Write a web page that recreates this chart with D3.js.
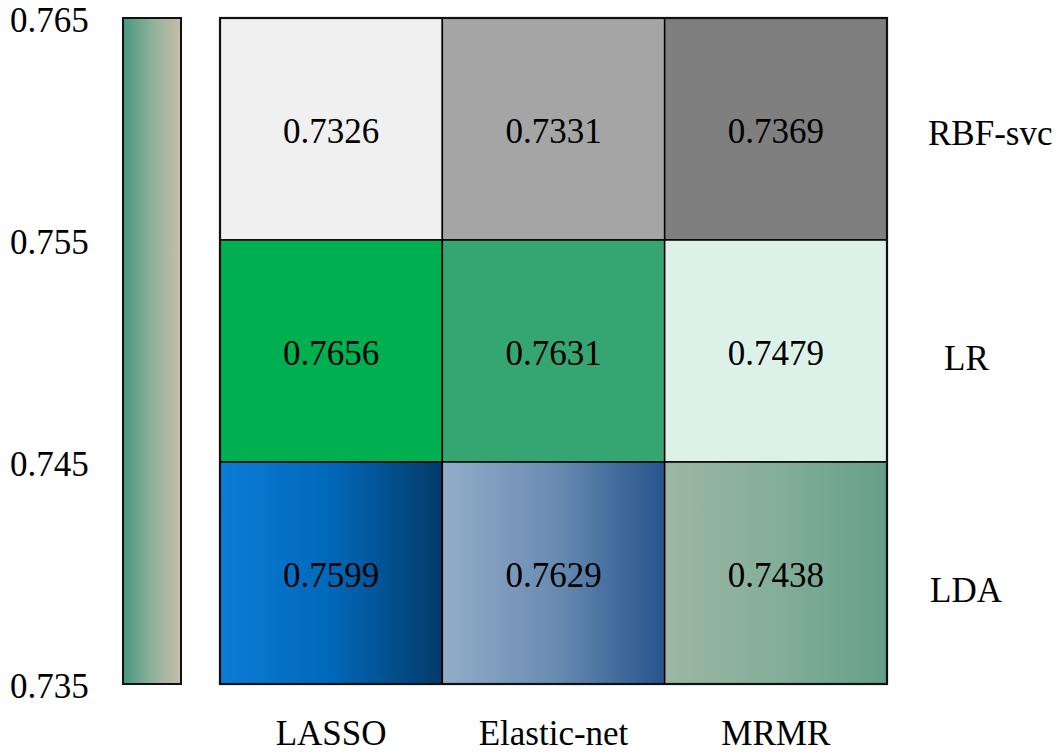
<!DOCTYPE html>
<html>
<head>
<meta charset="utf-8">
<script src="https://cdn.jsdelivr.net/npm/d3@7"></script>
<style>
  html, body { margin: 0; padding: 0; background: #fff; }
  svg { display: block; }
</style>
</head>
<body>
<svg id="chart" width="1064" height="754"></svg>
<script>
// ---- data ----
const models = ["RBF-svc", "LR", "LDA"];
const methods = ["LASSO", "Elastic-net", "MRMR"];
const rbfValues = [0.7326, 0.7331, 0.7369];
const lrValues = [0.7656, 0.7631, 0.7479];
const ldaValues = [0.7599, 0.7629, 0.7438];
const colorbarTicks = [0.765, 0.755, 0.745, 0.735];
const colorbarDomain = [0.735, 0.765];
// cell fills: [left colour, mid colour, right colour]
const rbfFills = [["#f0f0f0", "#f0f0f0", "#f0f0f0"], ["#a5a5a5", "#a5a5a5", "#a5a5a5"], ["#7f7f7f", "#7f7f7f", "#7f7f7f"]];
const lrFills = [["#00b050", "#00b050", "#00b050"], ["#35a572", "#35a572", "#35a572"], ["#dcf2e9", "#dcf2e9", "#dcf2e9"]];
const ldaFills = [["#0a7dd8", "#0068b8", "#043a6a"], ["#94adc9", "#6a8cb2", "#26548b"], ["#9db7a4", "#84ae98", "#659f8a"]];
const colorbarColors = ["#46987e", "#8fb09b", "#c9bcab"];

const values = [rbfValues, lrValues, ldaValues];
const fills = [rbfFills, lrFills, ldaFills];

// ---- layout ----
const FONT = "'Liberation Serif', 'Times New Roman', Times, serif";
const svg = d3.select("#chart").attr("font-family", FONT);
const gridLeft = 220, gridRight = 887, gridTop = 18, gridBottom = 684;
const fontSize = 35;

const x = d3.scaleBand().domain(methods).range([gridLeft, gridRight]).padding(0);
const y = d3.scaleBand().domain(models).range([gridTop, gridBottom]).padding(0);
const cb = d3.scaleLinear().domain(colorbarDomain).range([gridBottom, gridTop]);

const defs = svg.append("defs");

const cbg = defs.append("linearGradient").attr("id", "cbGrad")
  .attr("x1", "0%").attr("x2", "100%").attr("y1", "0%").attr("y2", "0%");
colorbarColors.forEach((c, i) => cbg.append("stop")
  .attr("offset", (i / (colorbarColors.length - 1) * 100) + "%").attr("stop-color", c));

const cells = [];
models.forEach((m, r) => methods.forEach((me, c) => {
  cells.push({ model: m, method: me, value: values[r][c], fill: fills[r][c], id: "g" + r + c });
}));

cells.forEach(d => {
  const g = defs.append("linearGradient").attr("id", d.id)
    .attr("x1", "0%").attr("x2", "100%").attr("y1", "0%").attr("y2", "0%");
  d.fill.forEach((c, i) => g.append("stop")
    .attr("offset", (i / (d.fill.length - 1) * 100) + "%").attr("stop-color", c));
});

svg.append("g").selectAll("rect").data(cells).join("rect")
  .attr("x", d => x(d.method))
  .attr("y", d => y(d.model))
  .attr("width", x.bandwidth())
  .attr("height", y.bandwidth())
  .attr("fill", d => `url(#${d.id})`)
  .attr("stroke", "#000")
  .attr("stroke-width", 1.5);

svg.append("rect")
  .attr("x", gridLeft).attr("y", gridTop)
  .attr("width", gridRight - gridLeft).attr("height", gridBottom - gridTop)
  .attr("fill", "none").attr("stroke", "#111").attr("stroke-width", 2.2);

svg.append("g").selectAll("text").data(cells).join("text")
  .attr("x", d => x(d.method) + x.bandwidth() / 2)
  .attr("y", d => y(d.model) + y.bandwidth() / 2 + 2)
  .attr("text-anchor", "middle")
  .attr("dominant-baseline", "central")
  .attr("font-size", fontSize)
  .attr("fill", "#000")
  .text(d => d.value.toFixed(4));

const cbLeft = 123, cbWidth = 58;
svg.append("rect")
  .attr("x", cbLeft).attr("y", cb(colorbarDomain[1]))
  .attr("width", cbWidth).attr("height", cb(colorbarDomain[0]) - cb(colorbarDomain[1]))
  .attr("fill", "url(#cbGrad)")
  .attr("stroke", "#111").attr("stroke-width", 2);

svg.append("g").selectAll("text").data(colorbarTicks).join("text")
  .attr("x", 10)
  .attr("y", d => cb(d) + 2)
  .attr("dominant-baseline", "central")
  .attr("font-size", fontSize)
  .attr("fill", "#000")
  .text(d => d.toFixed(3));

const rowLabelX = [928, 944, 930];
const rowLabelDy = [4, 7, 17];
svg.append("g").selectAll("text").data(models).join("text")
  .attr("x", (d, i) => rowLabelX[i])
  .attr("y", (d, i) => y(d) + y.bandwidth() / 2 + rowLabelDy[i])
  .attr("dominant-baseline", "central")
  .attr("font-size", fontSize)
  .attr("fill", "#000")
  .text(d => d);

svg.append("g").selectAll("text").data(methods).join("text")
  .attr("x", d => x(d) + x.bandwidth() / 2)
  .attr("y", 745)
  .attr("text-anchor", "middle")
  .attr("font-size", fontSize)
  .attr("fill", "#000")
  .text(d => d);
</script>
</body>
</html>
